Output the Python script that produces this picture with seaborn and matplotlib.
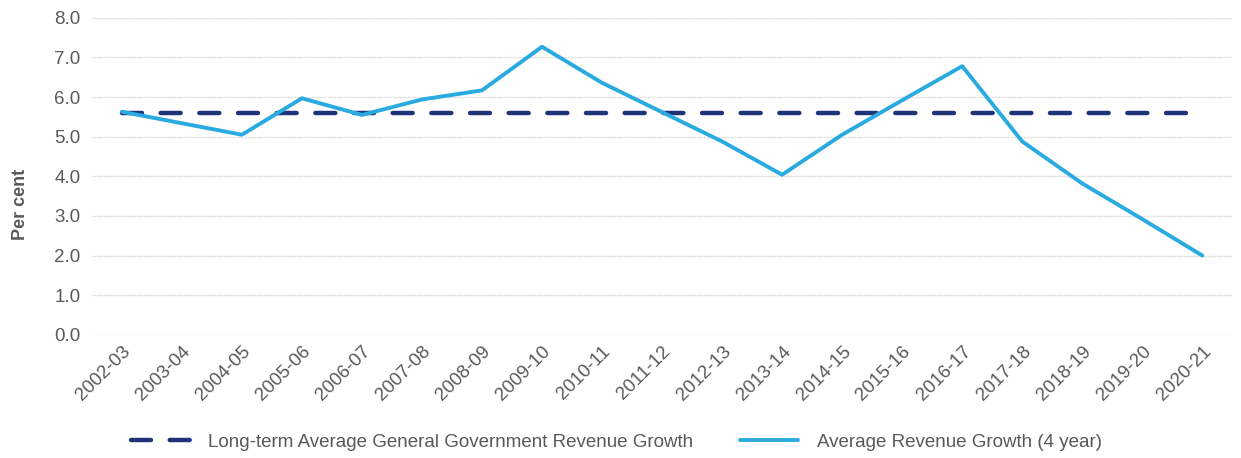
import pandas as pd
import numpy as np
import matplotlib
matplotlib.use('Agg')
import matplotlib.pyplot as plt
import seaborn as sns

years = ['2002-03', '2003-04', '2004-05', '2005-06', '2006-07', '2007-08',
         '2008-09', '2009-10', '2010-11', '2011-12', '2012-13', '2013-14',
         '2014-15', '2015-16', '2016-17', '2017-18', '2018-19', '2019-20',
         '2020-21']
avg_growth_4yr = [5.63, 5.34, 5.05, 5.97, 5.55, 5.94, 6.17, 7.27, 6.36, 5.62,
                  4.88, 4.04, 5.05, 5.92, 6.78, 4.88, 3.82, 2.92, 2.00]
long_term_avg = [5.6] * len(years)

label_lt = 'Long-term Average General Government Revenue Growth'
label_avg = 'Average Revenue Growth (4 year)'

df = pd.DataFrame({'year': years, 'lt': long_term_avg, 'avg': avg_growth_4yr})
df['pos'] = np.arange(len(years))

sns.set_style('white')
plt.rcParams['font.family'] = ['Liberation Sans', 'DejaVu Sans']

fig = plt.figure(figsize=(12.41, 4.58), dpi=100)
ax = fig.add_axes([0.074, 0.269, 0.919, 0.692])

grey = '#595959'

sns.lineplot(data=df, x='pos', y='lt', ax=ax, color='#1F3378',
             linewidth=3.2, label=label_lt)
ax.lines[-1].set_dashes([4.5, 4.2])
ax.lines[-1].set_dash_capstyle('round')
sns.lineplot(data=df, x='pos', y='avg', ax=ax, color='#29ABE2',
             linewidth=2.8, label=label_avg)

ax.set_xlim(-0.5, len(years) - 0.5)
ax.set_ylim(0, 8)
ax.set_yticks(np.arange(0, 8.1, 1.0))
ax.set_yticklabels([f'{v:.1f}' for v in np.arange(0, 8.1, 1.0)],
                   fontsize=13.5, color=grey)
ax.set_xticks(df['pos'])
ax.set_xticklabels(years, rotation=45, ha='right', rotation_mode='anchor',
                   fontsize=13.5, color=grey)
ax.tick_params(axis='both', length=0, pad=8)
ax.tick_params(axis='x', pad=6)
ax.grid(axis='y', color='#d9d9d9', linewidth=1.0, linestyle=(0, (1, 0.6)))
ax.set_axisbelow(True)
for s in ax.spines.values():
    s.set_visible(False)

ax.set_xlabel('')
ax.set_ylabel('Per cent', fontsize=13, fontweight='bold', color=grey)
ax.yaxis.set_label_coords(-0.055, 0.41)

ax.get_legend().remove()
h, l = ax.get_legend_handles_labels()
fig.legend(h, l, loc='center', bbox_to_anchor=(0.497, 0.035), ncol=2,
           frameon=False, fontsize=13.5, labelcolor=grey, handlelength=3.1,
           handletextpad=1.0, columnspacing=2.5)

fig.savefig('out.png', dpi=100)
